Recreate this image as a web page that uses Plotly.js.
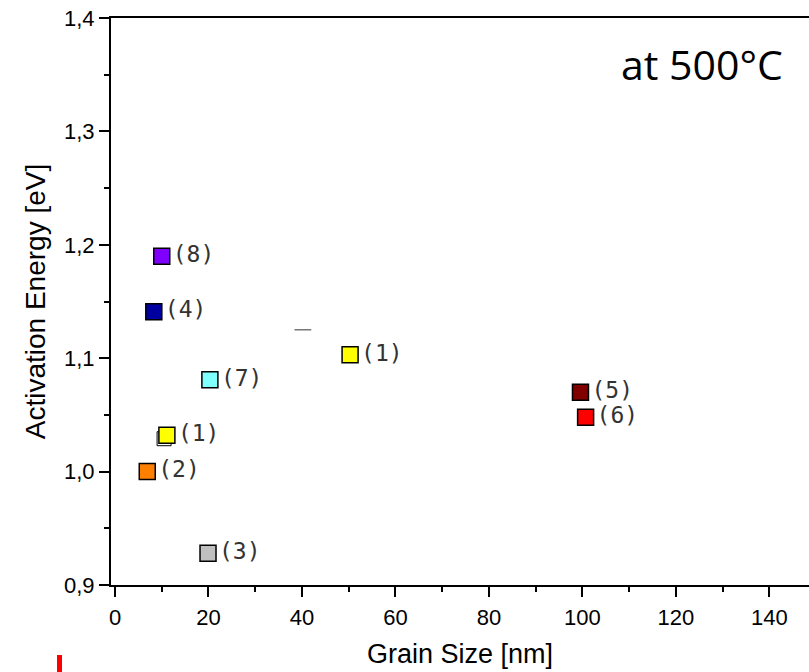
<!DOCTYPE html>
<html>
<head>
<meta charset="utf-8">
<script src="https://cdn.plot.ly/plotly-3.0.1.min.js"></script>
<style>
html,body{margin:0;padding:0;background:#fff;overflow:hidden;}
#chart{width:809px;height:672px;}
</style>
</head>
<body>
<div id="chart"></div>
<script>
// Data
const labels = ["(8)", "(4)", "(7)", "(1)", "(2)", "(3)", "(1)", "(5)", "(6)"];
const grainSize = [10.0, 8.3, 20.3, 11.1, 6.9, 19.9, 50.3, 99.6, 100.7];
const activationEnergy = [1.190, 1.141, 1.081, 1.032, 1.000, 0.928, 1.103, 1.070, 1.048];
const colors = ["#8000FF", "#0000A0", "#80FFFF", "#FFFF00", "#FF8000", "#C0C0C0", "#FFFF00", "#800000", "#FF0000"];
const shadowX = [10.5];
const shadowY = [1.029];
const dashX = [40.2];
const dashY = [1.125];
const xTickVals = [0, 20, 40, 60, 80, 100, 120, 140];
const yTickVals = [0.9, 1.0, 1.1, 1.2, 1.3, 1.4];

const traces = [
  {
    x: shadowX, y: shadowY, type: "scatter", mode: "markers",
    marker: {symbol: "square", size: 14, color: "#ffffff", line: {color: "#000", width: 1}},
    hoverinfo: "skip", showlegend: false
  },
  {
    x: dashX, y: dashY, type: "scatter", mode: "markers",
    marker: {symbol: "line-ew", size: 12, line: {color: "#333", width: 1}},
    hoverinfo: "skip", showlegend: false
  },
  {
    x: grainSize, y: activationEnergy, type: "scatter", mode: "markers+text",
    text: labels, textposition: "middle right",
    textfont: {family: "DejaVu Sans Mono, monospace", size: 23, color: "#333"},
    marker: {symbol: "square", size: 16, color: colors, line: {color: "#000", width: 1.5}},
    showlegend: false
  }
];

const layout = {
  width: 809, height: 672,
  margin: {l: 111, r: 0, t: 18, b: 87, pad: 0},
  paper_bgcolor: "#fff", plot_bgcolor: "#fff",
  separators: ",.",
  font: {family: "Liberation Sans, Arial, sans-serif", color: "#000"},
  xaxis: {
    range: [-0.86, 148.5], showgrid: false, zeroline: false,
    showline: true, linecolor: "#000", linewidth: 2, mirror: true,
    ticks: "outside", ticklen: 10, tickwidth: 2, tickcolor: "#000",
    tickvals: xTickVals, ticktext: xTickVals.map(String),
    tickfont: {size: 22, family: "Liberation Sans, Arial, sans-serif"},
    ticklabelstandoff: 2,
    minor: {dtick: 10, tick0: 0, ticks: "outside", ticklen: 5, tickwidth: 2, tickcolor: "#000", showgrid: false},
    title: {text: "Grain Size [nm]", font: {size: 27, family: "Liberation Sans, Arial, sans-serif"}, standoff: 15},
    automargin: false
  },
  yaxis: {
    range: [0.9, 1.4], showgrid: false, zeroline: false,
    showline: true, linecolor: "#000", linewidth: 2, mirror: false,
    ticks: "outside", ticklen: 10, tickwidth: 2, tickcolor: "#000",
    tickvals: yTickVals, tickformat: ".1f",
    tickfont: {size: 22, family: "Liberation Sans, Arial, sans-serif"},
    minor: {dtick: 0.05, tick0: 0.9, ticks: "outside", ticklen: 5, tickwidth: 2, tickcolor: "#000", showgrid: false},
    title: {text: "Activation Energy [eV]", font: {size: 28, family: "Liberation Sans, Arial, sans-serif"}, standoff: 10},
    automargin: false
  },
  annotations: [
    {
      text: "at 500°C", xref: "paper", yref: "paper", x: 0.847, y: 0.918,
      xanchor: "center", yanchor: "middle", showarrow: false,
      font: {family: "Open Sans, Noto Sans, sans-serif", size: 41, color: "#000"}
    }
  ],
  shapes: [
    {
      type: "rect", xref: "paper", yref: "paper",
      x0: -0.0774, x1: -0.0702, y0: -0.1534, y1: -0.1235,
      fillcolor: "#FF0000", line: {width: 0}
    }
  ]
};

Plotly.newPlot("chart", traces, layout, {displayModeBar: false, staticPlot: true});
</script>
</body>
</html>
